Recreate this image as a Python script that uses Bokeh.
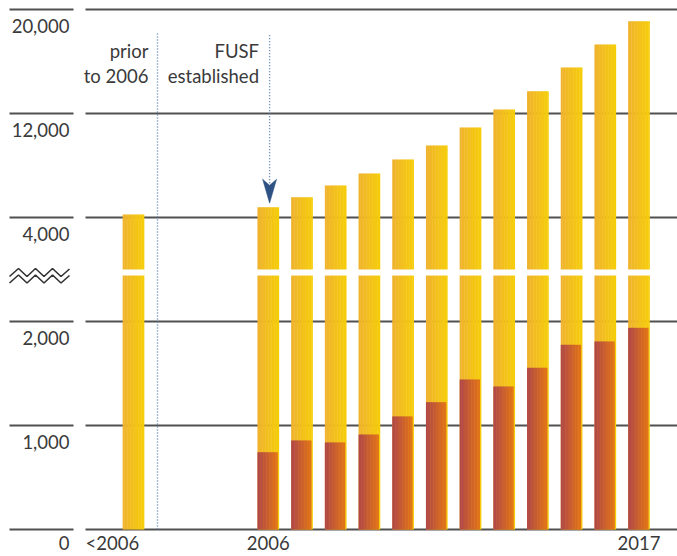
import numpy as np
from bokeh.plotting import figure
from bokeh.models import Range1d
from bokeh.core.properties import value
from bokeh.embed import file_html
from bokeh.resources import INLINE

# ---------------- data ----------------
categories = ["<2006", "2006", "2007", "2008", "2009", "2010", "2011",
              "2012", "2013", "2014", "2015", "2016", "2017"]
total_values = [4230, 4790, 5560, 6460, 7390, 8460, 9540,
                10920, 12310, 13720, 15540, 17310, 19100]
fusf_values = [0, 743, 856, 837, 913, 1087, 1224,
               1442, 1375, 1555, 1776, 1808, 1939]
y_ticks = [0, 1000, 2000, 4000, 12000, 20000]
x_labels = ["<2006", "2006", "2017"]
note_prior = ["prior", "to 2006"]
note_fusf = ["FUSF", "established"]

# ---------------- broken axis transform ----------------
def disp(v):
    # lower part linear 0..2000 (1 unit per 1000), upper part 4000..20000 (1 unit per 8000)
    return v / 1000.0 if v <= 2500 else 3.0 + (v - 4000) / 8000.0

BREAK_LO, BREAK_HI = 2.442, 2.50

# ---------------- layout ----------------
W, H = 677, 556
SLOT_PX = 33.7          # pixels per category slot
X0_PX = 133.0           # px of slot 0
ZERO_PX = 529.0         # px (from top) of value 0
PX_D = 104.0            # pixels per display unit
TXT_SHIFT = 7.5         # baseline correction (px)
BOTTOM_LIFT = 3         # keep the lowest labels fully on the page

def dx(px):
    return px / SLOT_PX

def dy(px):
    return px / PX_D

def sx(screen_x):      # screen x -> data x
    return (screen_x - X0_PX) / SLOT_PX

slots = [0] + [4 + i for i in range(len(categories) - 1)]
BW = dx(21.7)

p = figure(width=W, height=H, output_backend="svg", toolbar_location=None,
           x_range=Range1d(-X0_PX / SLOT_PX, (W - X0_PX) / SLOT_PX),
           y_range=Range1d(-(H - ZERO_PX) / PX_D, ZERO_PX / PX_D),
           min_border=0, outline_line_color=None, background_fill_color="white",
           border_fill_color="white")
p.axis.visible = False
p.grid.visible = False

FONT = value("Lato")
FS = "18.5px"
TXT = "#3a3a3a"
GRID = "#505050"

# gridlines (behind bars)
ty = [disp(t) for t in y_ticks]
p.segment(x0=[sx(85)] * len(ty), x1=[p.x_range.end] * len(ty), y0=ty, y1=ty,
          line_color=GRID, line_width=2.2)
p.segment(x0=[sx(9)] * len(ty), x1=[sx(73)] * len(ty), y0=ty, y1=ty,
          line_color=GRID, line_width=2.2)

# tick labels (below their line, right aligned)
lab_off = [24 - TXT_SHIFT - (BOTTOM_LIFT if t == 0 else 0) for t in y_ticks]
p.text(x=[sx(69)] * len(ty), y=[v - dy(o) for v, o in zip(ty, lab_off)],
       text=[f"{t:,}" for t in y_ticks], text_align="right", text_baseline="alphabetic",
       text_font=FONT, text_font_size=FS, text_color=TXT)

# x labels
lab_x = [sx(85), slots[categories.index("2006")], slots[categories.index("2017")]]
p.text(x=lab_x, y=[-dy(24 - TXT_SHIFT - BOTTOM_LIFT)] * 3, text=x_labels,
       text_align=["left", "center", "center"], text_baseline="alphabetic",
       text_font=FONT, text_font_size=FS, text_color=TXT)

# gradient bars
N = 14
def lerp(c0, c1, t):
    return "#%02x%02x%02x" % tuple(int(round(a + (b - a) * t)) for a, b in zip(c0, c1))

GOLD0, GOLD1 = (239, 178, 46), (246, 206, 8)
RED0, RED1 = (174, 70, 74), (228, 118, 22)

def gradient_bar(xc, width, bottom, top, c0, c1):
    left = xc - BW / 2
    sw = width / N
    lefts = [left + k * sw for k in range(N)]
    rights = [l + sw + dx(0.4) if k < N - 1 else l + sw for k, l in enumerate(lefts)]
    cols = [lerp(c0, c1, (k + 0.5) / N) for k in range(N)]
    p.quad(left=lefts, right=rights, bottom=[bottom] * N, top=[top] * N,
           fill_color=cols, line_color=None)

for xc, tot, red in zip(slots, total_values, fusf_values):
    gradient_bar(xc, BW, 0, disp(tot), GOLD0, GOLD1)
    if red > 0:
        gradient_bar(xc, BW - dx(1.3), 0, disp(red), RED0, RED1)

# white break band through the bars
p.quad(left=[s - BW / 2 - dx(0.5) for s in slots], right=[s + BW / 2 + dx(0.5) for s in slots],
       bottom=[BREAK_LO] * len(slots), top=[BREAK_HI] * len(slots),
       fill_color="white", line_color=None)

# zigzag break symbol on the axis
mid = (BREAK_LO + BREAK_HI) / 2
zx = [sx(v) for v in [9, 18, 26.5, 35, 43.5, 52, 60.5, 69]]
zpat = [4, -4, 4, -4, 4, -4, 4, -3.5]
for off in (0, 6.5):
    p.line(x=zx, y=[mid - dy(z + off) for z in zpat], line_color="#333333", line_width=1.6)

# dotted separators
top_d = disp(20000) - dy(24)
DOT = "#5577aa"
sep_x = sx(157)
p.segment(x0=[sep_x], x1=[sep_x], y0=[0], y1=[top_d], line_color=DOT,
          line_width=1.4, line_dash="1 2")

i06 = categories.index("2006")
ax = slots[i06] + dx(1.3)
tip = disp(total_values[i06]) + dy(4)
p.segment(x0=[ax], x1=[ax], y0=[tip + dy(20)], y1=[top_d], line_color=DOT,
          line_width=1.4, line_dash="1 2")
p.patch(x=[ax - dx(7), ax, ax + dx(7), ax], y=[tip + dy(24), tip + dy(18), tip + dy(24), tip],
        fill_color="#2e5284", line_color="#2e5284", line_width=0.5)

# annotations
ny = [disp(20000) - dy(49 - TXT_SHIFT), disp(20000) - dy(74 - TXT_SHIFT)]
p.text(x=[sx(148)] * 2, y=ny, text=note_prior,
       text_align="right", text_baseline="alphabetic", text_font=FONT,
       text_font_size=FS, text_color=TXT)
p.text(x=[sx(258.5)] * 2, y=ny, text=note_fusf,
       text_align="right", text_baseline="alphabetic", text_font=FONT,
       text_font_size=FS, text_color=TXT)

open("out.html", "w").write(file_html(p, INLINE))
